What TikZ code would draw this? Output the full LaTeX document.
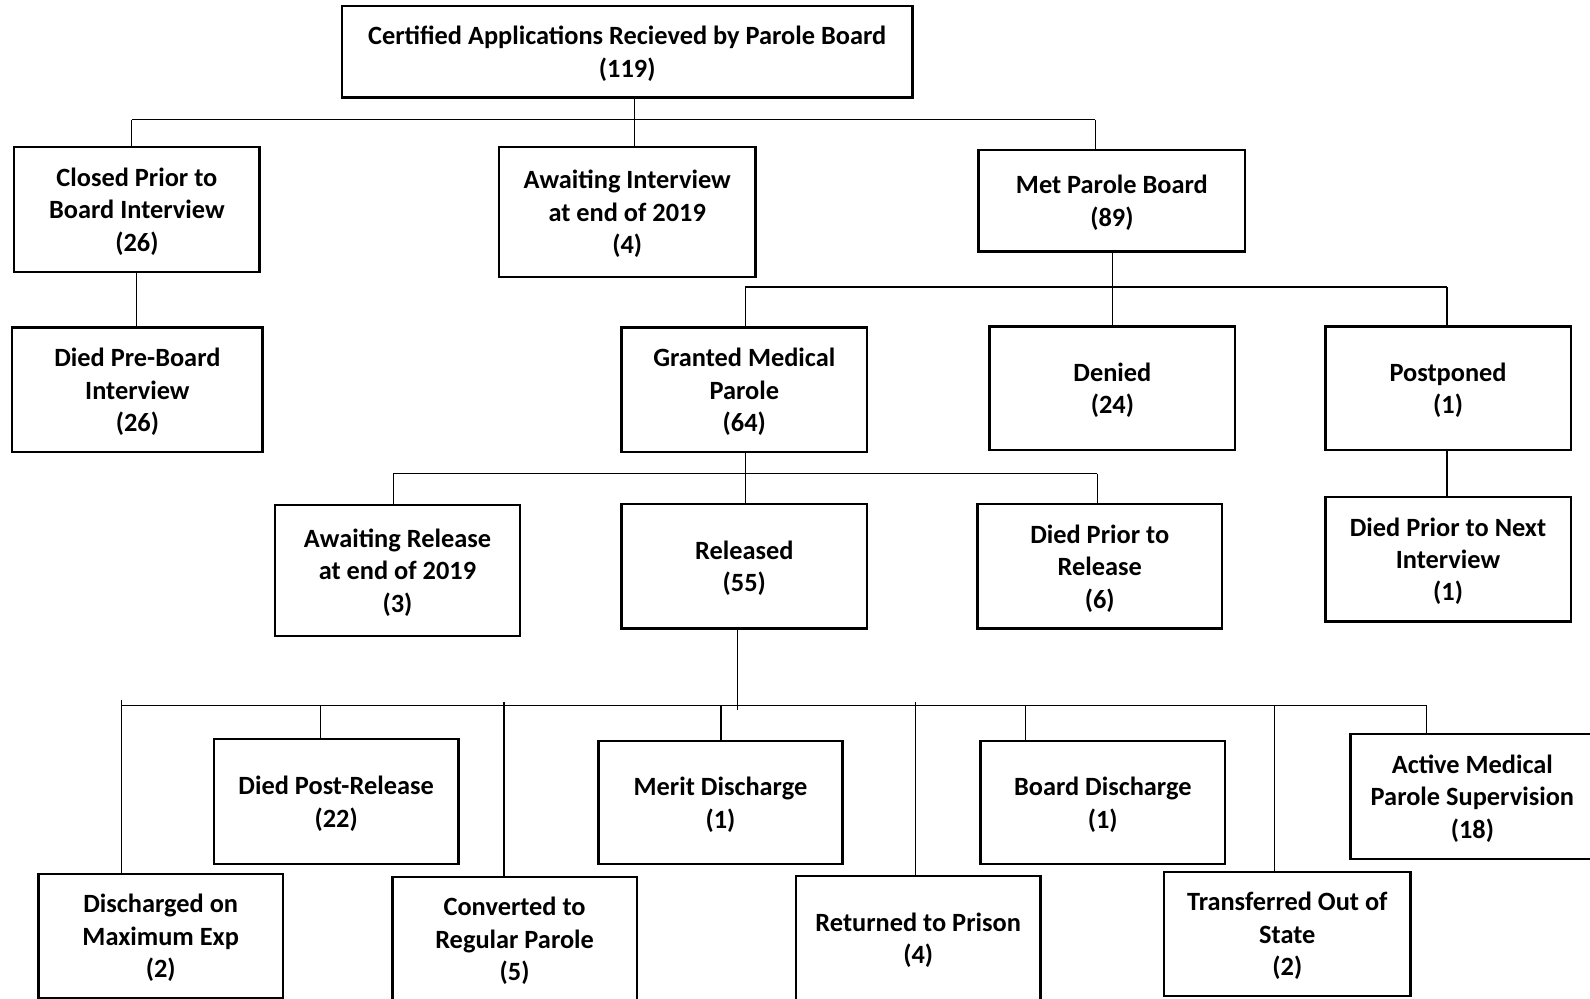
\documentclass[tikz,border=0pt]{standalone}
\usepackage{fontspec}
\setmainfont{Carlito}
\begin{document}
\begin{tikzpicture}[x=0.5pt,y=-0.5pt,
  box/.style={draw, line width=1.2pt, align=center, inner sep=0pt,
    font=\fontsize{13}{16}\selectfont\bfseries, text depth=0pt},
  conn/.style={draw, line width=0.55pt}]
\useasboundingbox (0,0) rectangle (1568,985);
\clip (0,0) rectangle (1568,985);
% boxes (centre in px; sizes in pt = px/2)
\node[box, minimum width=281.5pt, minimum height=45pt] (top) at (618.5,51) {Certified Applications Recieved by Parole Board\\(119)};
\node[box, minimum width=121pt, minimum height=61.5pt] (closed) at (135,206.5) {Closed Prior to\\Board Interview\\(26)};
\node[box, minimum width=126.5pt, minimum height=64pt] (awaitI) at (618.5,209) {Awaiting Interview\\at end of 2019\\(4)};
\node[box, minimum width=131.5pt, minimum height=50pt] (met) at (1096.5,198) {Met Parole Board\\(89)};
\node[box, minimum width=123.5pt, minimum height=61.5pt] (diedpre) at (135.5,384.5) {Died Pre-Board\\Interview\\(26)};
\node[box, minimum width=121pt, minimum height=61.5pt] (granted) at (734,384.5) {Granted Medical\\Parole\\(64)};
\node[box, minimum width=121pt, minimum height=61pt] (denied) at (1097,383) {Denied\\(24)};
\node[box, minimum width=121pt, minimum height=61pt] (postponed) at (1428,383) {Postponed\\(1)};
\node[box, minimum width=121pt, minimum height=61.5pt] (diednext) at (1428,551.5) {Died Prior to Next\\Interview\\(1)};
\node[box, minimum width=121pt, minimum height=64.5pt] (awaitR) at (392,562.5) {Awaiting Release\\at end of 2019\\(3)};
\node[box, minimum width=121pt, minimum height=61.5pt] (released) at (734,558.5) {Released\\(55)};
\node[box, minimum width=120.5pt, minimum height=61.5pt] (diedrel) at (1084.5,558.5) {Died Prior to\\Release\\(6)};
\node[box, minimum width=120.5pt, minimum height=61pt] (dischmax) at (158.5,923) {Discharged on\\Maximum Exp\\(2)};
\node[box, minimum width=120.5pt, minimum height=61.5pt] (diedpost) at (331.5,790.5) {Died Post-Release\\(22)};
\node[box, minimum width=120.5pt, minimum height=61pt] (converted) at (507.5,926) {Converted to\\Regular Parole\\(5)};
\node[box, minimum width=120.5pt, minimum height=60.5pt] (merit) at (710.5,791.5) {Merit Discharge\\(1)};
\node[box, minimum width=120.5pt, minimum height=61pt] (returned) at (905.5,925) {Returned to Prison\\(4)};
\node[box, minimum width=120.5pt, minimum height=60.5pt] (board) at (1087.5,791.5) {Board Discharge\\(1)};
\node[box, minimum width=121.5pt, minimum height=61pt] (transferred) at (1269.5,921) {Transferred Out of\\State\\(2)};
\node[box, minimum width=120pt, minimum height=61.5pt] (active) at (1452,785.5) {Active Medical\\Parole Supervision\\(18)};
% bus coordinates
\coordinate (b1) at (626,118);
\coordinate (b1l) at (130,118);
\coordinate (b1r) at (1080,118);
\coordinate (b2) at (1097,283);
\coordinate (b2l) at (735,283);
\coordinate (b2r) at (1427,283);
\coordinate (b3) at (735,467);
\coordinate (b3l) at (388,467);
\coordinate (b3r) at (1082,467);
\coordinate (b4) at (727,700);
\coordinate (b4l) at (120,696);
\coordinate (b4r) at (1407,696);
% level 1
\draw[conn] (top.south -| b1) -- (b1);
\draw[conn] (b1l) -- (b1r);
\draw[conn] (b1l) -- (closed.north -| b1l);
\draw[conn] (b1) -- (awaitI.north -| b1);
\draw[conn] (b1r) -- (met.north -| b1r);
\draw[conn] (closed.south) -- (closed.south |- diedpre.north);
% level 2
\draw[conn] (met.south -| b2) -- (b2);
\draw[conn] (b2l) -- (b2r);
\draw[conn] (b2l) -- (granted.north -| b2l);
\draw[conn] (b2) -- (denied.north -| b2);
\draw[conn] (b2r) -- (postponed.north -| b2r);
\draw[conn] (postponed.south -| b2r) -- (diednext.north -| b2r);
% level 3
\draw[conn] (granted.south -| b3) -- (b3);
\draw[conn] (b3l) -- (b3r);
\draw[conn] (b3l) -- (awaitR.north -| b3l);
\draw[conn] (b3) -- (released.north -| b3);
\draw[conn] (b3r) -- (diedrel.north -| b3r);
% level 4
\draw[conn] (released.south -| b4) -- (b4);
\draw[conn] (b4l) -- (b4r);
\draw[conn] (120,690) -- (dischmax.north -| 120,0);
\draw[conn] (316,696) -- (diedpost.north -| 316,0);
\draw[conn] (497,692) -- (converted.north -| 497,0);
\draw[conn] (711,696) -- (merit.north -| 711,0);
\draw[conn] (903,692) -- (returned.north -| 903,0);
\draw[conn] (1011,696) -- (board.north -| 1011,0);
\draw[conn] (1257,696) -- (transferred.north -| 1257,0);
\draw[conn] (b4r) -- (active.north -| b4r);
\end{tikzpicture}
\end{document}
